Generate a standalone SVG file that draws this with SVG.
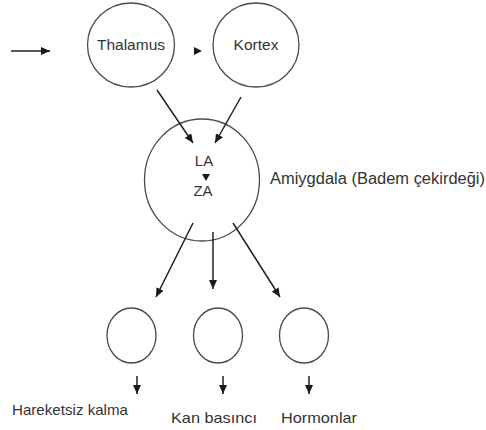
<svg xmlns="http://www.w3.org/2000/svg" width="486" height="430" viewBox="0 0 486 430">
<defs>
<marker id="ah" markerWidth="9" markerHeight="8" refX="9" refY="4" orient="auto" markerUnits="userSpaceOnUse">
<path d="M0,0 L9,4 L0,8 Z" fill="#1a1a1a"/>
</marker>
</defs>
<style>
.n{fill:none;stroke:#4a4a4a;stroke-width:1.3}
.t{font-family:"Liberation Sans",Arial,sans-serif;fill:#333}
.c{stroke:#222;stroke-width:1.5;fill:none}
.h{fill:#1a1a1a}
</style>
<rect width="486" height="430" fill="#fff"/>
<g id="thalamus">
<ellipse class="n" cx="131" cy="45" rx="43.5" ry="42"/>
<text class="t" x="131" y="50" font-size="15.5" text-anchor="middle">Thalamus</text>
</g>
<g id="kortex">
<ellipse class="n" cx="256" cy="45" rx="43" ry="42"/>
<text class="t" x="256" y="50" font-size="15.5" text-anchor="middle">Kortex</text>
</g>
<g id="amygdala">
<ellipse class="n" cx="202" cy="180" rx="57.5" ry="61"/>
<text class="t" x="204" y="166" font-size="15" text-anchor="middle">LA</text>
<text class="t" x="203" y="196" font-size="15" text-anchor="middle">ZA</text>
<text class="t" x="270" y="184" font-size="16" textLength="215" lengthAdjust="spacingAndGlyphs">Amiygdala (Badem çekirdeği)</text>
</g>
<g id="out1">
<ellipse class="n" cx="131.5" cy="335.5" rx="24.5" ry="27.5"/>
<text class="t" x="12" y="415" font-size="15" textLength="116" lengthAdjust="spacingAndGlyphs">Hareketsiz kalma</text>
</g>
<g id="out2">
<ellipse class="n" cx="218" cy="335.5" rx="24.5" ry="27.5"/>
<text class="t" x="171" y="423" font-size="15" textLength="86" lengthAdjust="spacingAndGlyphs">Kan basıncı</text>
</g>
<g id="out3">
<ellipse class="n" cx="304" cy="335.5" rx="24.5" ry="27.5"/>
<text class="t" x="281" y="423" font-size="15" textLength="76" lengthAdjust="spacingAndGlyphs">Hormonlar</text>
</g>
<g id="connectors">
<line class="c" x1="11" y1="51" x2="50" y2="51" marker-end="url(#ah)"/>
<path class="h" d="M194,47 L202,51 L194,55 Z"/>
<line class="c" x1="157" y1="90" x2="193" y2="143" marker-end="url(#ah)"/>
<line class="c" x1="241" y1="97" x2="215" y2="143" marker-end="url(#ah)"/>
<path class="h" d="M202,174 L210,174 L206,181 Z"/>
<line class="c" x1="193" y1="223" x2="156" y2="297" marker-end="url(#ah)"/>
<line class="c" x1="213" y1="232" x2="213" y2="289" marker-end="url(#ah)"/>
<line class="c" x1="233" y1="223" x2="280" y2="297" marker-end="url(#ah)"/>
<line class="c" x1="137" y1="376" x2="137" y2="394" marker-end="url(#ah)"/>
<line class="c" x1="223" y1="376" x2="223" y2="394" marker-end="url(#ah)"/>
<line class="c" x1="309" y1="376" x2="309" y2="394" marker-end="url(#ah)"/>
</g>
</svg>
